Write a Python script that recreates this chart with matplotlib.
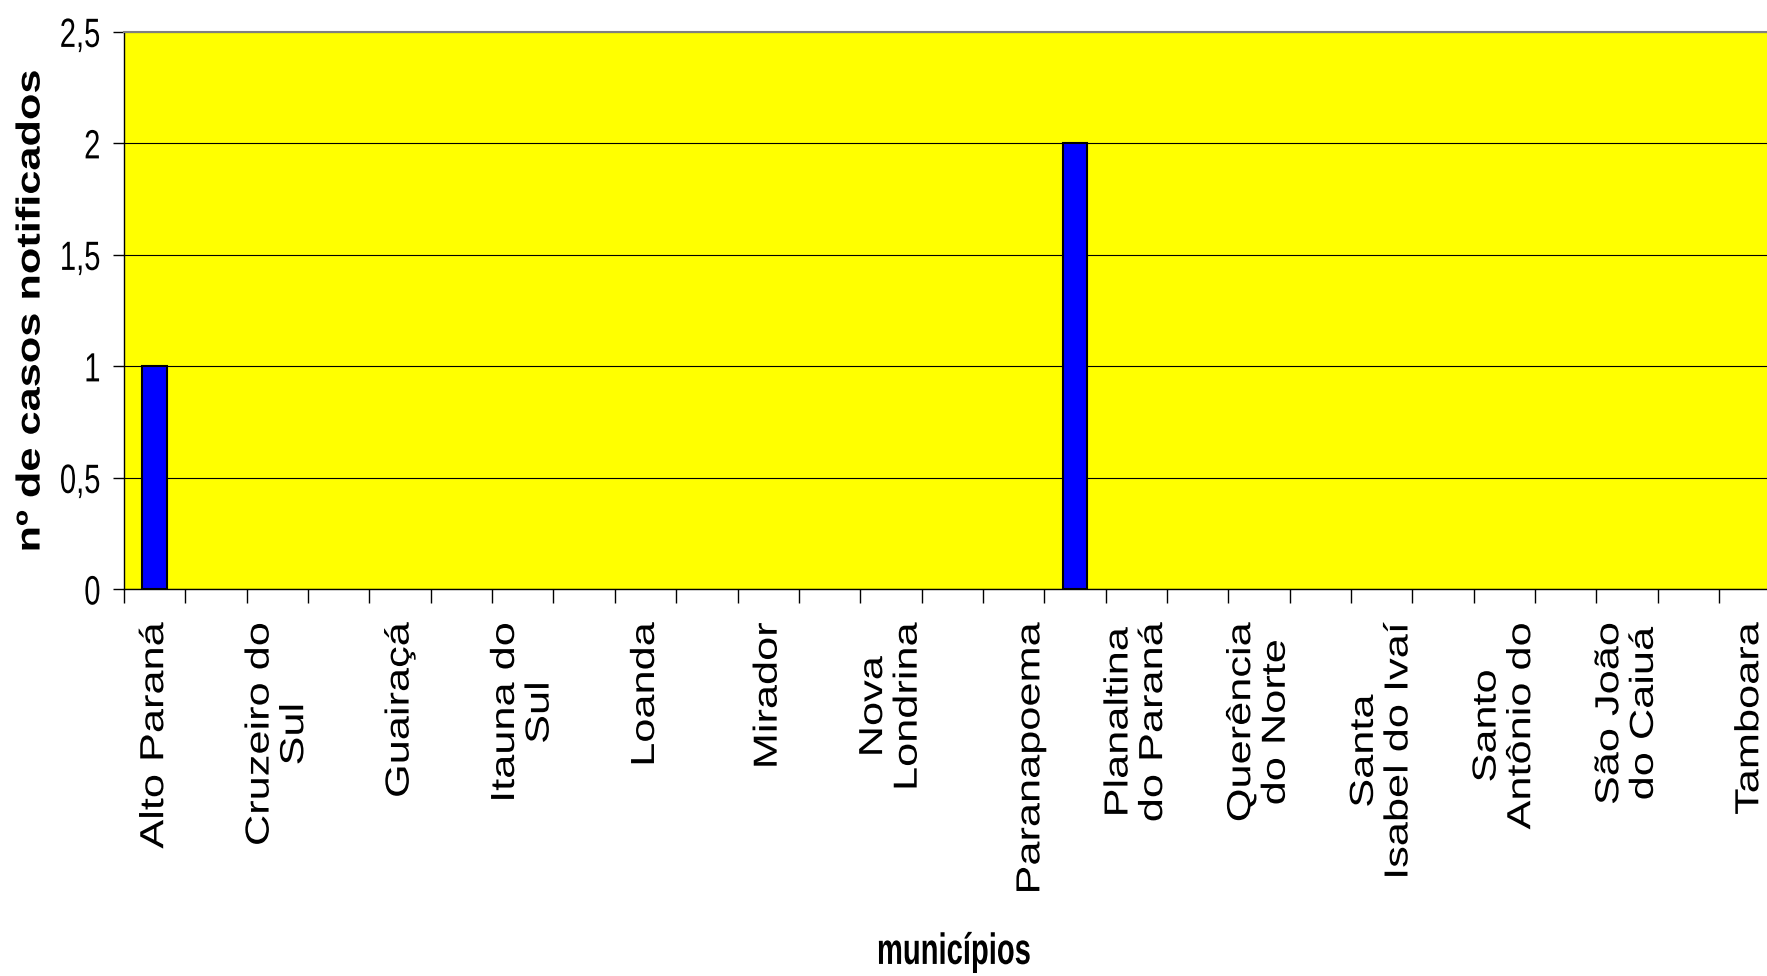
import numpy as np
import matplotlib
matplotlib.use("Agg")
import matplotlib.pyplot as plt
import matplotlib.patheffects as pe
from matplotlib.transforms import Affine2D

plt.rcParams['font.family'] = ['Liberation Sans', 'DejaVu Sans']

# municipios - o Excel mostra só um nome a cada dois
municipios = ["Alto Paraná", "", "Cruzeiro do\nSul", "", "Guairaçá", "",
              "Itauna do\nSul", "", "Loanda", "", "Mirador", "",
              "Nova\nLondrina", "", "\nParanapoema", "", "Planaltina\ndo Paraná", "",
              "Querência\ndo Norte", "", "Santa\nIsabel do Ivaí", "",
              "Santo\nAntônio do", "", "São João\ndo Caiuá", "", "Tamboara", ""]
casos = [1, 0, 0, 0, 0, 0, 0, 0, 0, 0, 0, 0, 0, 0,
         0, 2, 0, 0, 0, 0, 0, 0, 0, 0, 0, 0, 0, 0]
y_ticks = [0, 0.5, 1, 1.5, 2, 2.5]
y_labels = ["0", "0,5", "1", "1,5", "2", "2,5"]


# o grafico original foi esticado na vertical, entao estica o texto tambem
class Esticar(pe.AbstractPathEffect):
    def __init__(self, texto, fator):
        super().__init__()
        self.texto = texto
        self.fator = fator

    def draw_path(self, renderer, gc, tpath, affine, rgbFace=None):
        x0, y0 = self.texto.get_transform().transform(self.texto.get_unitless_position())
        est = Affine2D().translate(0, -y0).scale(1, self.fator).translate(0, y0)
        renderer.draw_path(gc, tpath, affine + est, rgbFace)


fig = plt.figure(figsize=(17.67, 9.76), dpi=100)
ax = fig.add_axes([124/1767, 387/976, 28*61.35/1767, 557.5/976])
ax.set_facecolor("#ffff00")

x = np.arange(len(casos))
bordas = ["black" if c > 0 else "none" for c in casos]
ax.bar(x, casos, width=0.4, color="#0000ff", edgecolor=bordas, linewidth=1.5, zorder=3)

ax.set_xlim(-0.5, len(casos) - 0.5)
ax.set_ylim(0, 2.5)
ax.set_yticks(y_ticks, labels=y_labels)
ax.yaxis.grid(True, color="black", linewidth=0.8)
ax.set_axisbelow(True)

ax.set_xticks(x, labels=municipios, rotation=90, ha="center", va="top",
              multialignment="center", linespacing=1.15)
ax.set_xticks(np.arange(-0.5, len(casos)), minor=True)
ax.tick_params(axis="x", which="major", length=0, pad=24, labelsize=24)
ax.tick_params(axis="x", which="minor", length=10, width=1, color="black")
ax.tick_params(axis="y", length=8, width=1, pad=9, labelsize=21)

ax.spines["top"].set_color("#808080")
ax.spines["top"].set_linewidth(1.5)
ax.spines["left"].set_linewidth(1)
ax.spines["bottom"].set_linewidth(1)

ax.set_ylabel("nº de casos notificados", fontsize=24, fontweight="bold", va="center")
ax.yaxis.set_label_coords(-0.0541, 0.5)
ax.set_xlabel("municípios", fontsize=21, fontweight="bold", va="center")
ax.xaxis.set_label_coords(0.483, -0.651)

for t in ax.get_xticklabels():
    t.set_path_effects([Esticar(t, 1.3)])
for t in ax.get_yticklabels():
    t.set_path_effects([Esticar(t, 1.4)])
ax.yaxis.label.set_path_effects([Esticar(ax.yaxis.label, 1.3)])
ax.xaxis.label.set_path_effects([Esticar(ax.xaxis.label, 1.5)])

fig.savefig("out.png", dpi=100)
